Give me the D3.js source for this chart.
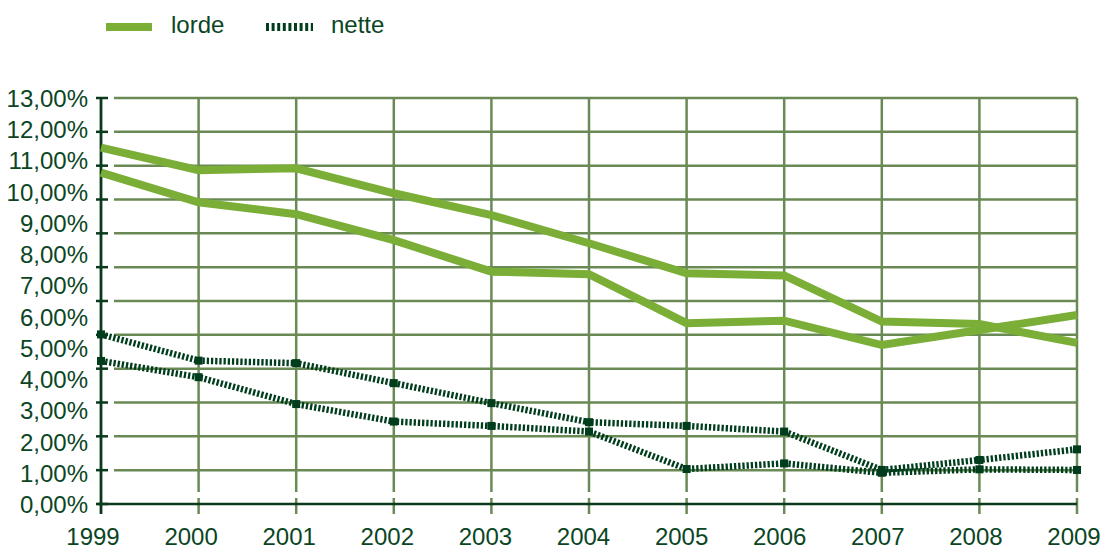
<!DOCTYPE html>
<html>
<head>
<meta charset="utf-8">
<script src="https://cdn.jsdelivr.net/npm/d3@7"></script>
<style>
  body { margin: 0; background: #fff; }
  text { font-family: "Liberation Sans", Arial, sans-serif; fill: #0b4524; }
</style>
</head>
<body>
<div id="chart"></div>
<script>
const years = [1999, 2000, 2001, 2002, 2003, 2004, 2005, 2006, 2007, 2008, 2009];

// two series per type, values in %
const lordeA = [11.41, 10.69, 10.75, 9.95, 9.25, 8.35, 7.39, 7.32, 5.84, 5.76, 5.16];
const lordeB = [10.61, 9.66, 9.28, 8.45, 7.44, 7.36, 5.79, 5.87, 5.09, 5.57, 6.05];
const netteA = [5.43, 4.59, 4.51, 3.87, 3.23, 2.62, 2.50, 2.32, 1.09, 1.41, 1.75];
const netteB = [4.58, 4.06, 3.20, 2.64, 2.50, 2.32, 1.12, 1.30, 1.00, 1.11, 1.09];

const yTickLabels = ['0,00%', '1,00%', '2,00%', '3,00%', '4,00%', '5,00%', '6,00%',
    '7,00%', '8,00%', '9,00%', '10,00%', '11,00%', '12,00%', '13,00%'];
const legendLabels = ['lorde', 'nette'];

const w = 1105;
const h = 550;

const colLorde = '#7aae37';
const colNette = '#003d1d';
const colGrid = '#6a8a55';
const colAxis = '#0a3a1c';

const svg = d3.select('#chart')
    .append('svg')
    .attr('width', w)
    .attr('height', h);

const x = d3.scaleLinear().domain([1999, 2009]).range([101, 1077]);
const xLabel = d3.scaleLinear().domain([1999, 2009]).range([93, 1074]);
const y = d3.scaleLinear().domain([0, 13]).range([504, 98]);
// grid/ticks use 12 even steps over the same height
const yGrid = d3.scaleLinear().domain([0, 12]).range([504, 98]);

// horizontal gridlines
svg.append('g')
    .selectAll('line')
    .data(d3.range(1, 13))
    .enter()
    .append('line')
    .attr('x1', 114)
    .attr('x2', x(2009))
    .attr('y1', (d) => yGrid(d))
    .attr('y2', (d) => yGrid(d))
    .attr('stroke', colGrid)
    .attr('stroke-width', 2.5);

// vertical gridlines + bottom ticks
const vg = svg.append('g');
vg.selectAll('line.grid')
    .data(years.slice(1))
    .enter()
    .append('line')
    .attr('class', 'grid')
    .attr('x1', (d) => x(d))
    .attr('x2', (d) => x(d))
    .attr('y1', yGrid(12))
    .attr('y2', 492)
    .attr('stroke', colGrid)
    .attr('stroke-width', 2.5);
vg.selectAll('line.tick')
    .data(years.slice(1))
    .enter()
    .append('line')
    .attr('class', 'tick')
    .attr('x1', (d) => x(d))
    .attr('x2', (d) => x(d))
    .attr('y1', 498)
    .attr('y2', 514)
    .attr('stroke', colGrid)
    .attr('stroke-width', 2.5);

// axes
svg.append('line')
    .attr('x1', 97).attr('x2', x(2009))
    .attr('y1', y(0)).attr('y2', y(0))
    .attr('stroke', colAxis).attr('stroke-width', 2.5);
svg.append('line')
    .attr('x1', x(1999)).attr('x2', x(1999))
    .attr('y1', yGrid(12) - 1).attr('y2', 514)
    .attr('stroke', colAxis).attr('stroke-width', 2.8);
svg.append('g')
    .selectAll('line')
    .data(d3.range(0, 13))
    .enter()
    .append('line')
    .attr('x1', 96)
    .attr('x2', 108)
    .attr('y1', (d) => yGrid(d))
    .attr('y2', (d) => yGrid(d))
    .attr('stroke', colAxis)
    .attr('stroke-width', 2.5);

// y labels
svg.append('g')
    .selectAll('text')
    .data(yTickLabels)
    .enter()
    .append('text')
    .attr('x', 88)
    .attr('y', (d, i) => y(i) + 9)
    .attr('text-anchor', 'end')
    .attr('font-size', 24)
    .text((d) => d);

// x labels
svg.append('g')
    .selectAll('text')
    .data(years)
    .enter()
    .append('text')
    .attr('x', (d) => xLabel(d))
    .attr('y', 545)
    .attr('text-anchor', 'middle')
    .attr('font-size', 24)
    .text((d) => d);

const line = d3.line()
    .x((d, i) => x(years[i]))
    .y((d) => y(d));

function drawLorde(values) {
    svg.append('path')
        .datum(values)
        .attr('d', line)
        .attr('fill', 'none')
        .attr('stroke', colLorde)
        .attr('stroke-width', 8)
        .attr('stroke-linejoin', 'miter');
}

function drawNette(values) {
    svg.append('path')
        .datum(values)
        .attr('d', line)
        .attr('fill', 'none')
        .attr('stroke', colNette)
        .attr('stroke-width', 6.5)
        .attr('stroke-dasharray', '2.3,1.9');
    svg.append('g')
        .selectAll('rect')
        .data(values)
        .enter()
        .append('rect')
        .attr('x', (d, i) => x(years[i]) - 4)
        .attr('y', (d) => y(d) - 4)
        .attr('width', 8)
        .attr('height', 8)
        .attr('fill', colNette);
}

drawLorde(lordeA);
drawLorde(lordeB);
drawNette(netteA);
drawNette(netteB);

// legend
const legend = svg.append('g');
legend.append('line')
    .attr('x1', 106).attr('x2', 152)
    .attr('y1', 27).attr('y2', 27)
    .attr('stroke', colLorde).attr('stroke-width', 8);
legend.append('text')
    .attr('x', 171).attr('y', 33)
    .attr('font-size', 24)
    .text(legendLabels[0]);
legend.append('line')
    .attr('x1', 266).attr('x2', 313)
    .attr('y1', 27).attr('y2', 27)
    .attr('stroke', colNette).attr('stroke-width', 8)
    .attr('stroke-dasharray', '3,2.6');
legend.append('text')
    .attr('x', 331).attr('y', 33)
    .attr('font-size', 24)
    .text(legendLabels[1]);
</script>
</body>
</html>
